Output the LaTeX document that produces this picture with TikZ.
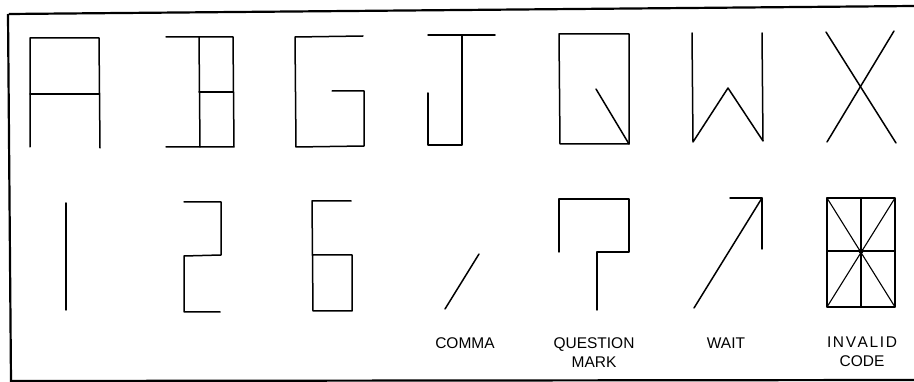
\documentclass[tikz,border=0pt]{standalone}
\usepackage{fontspec}
\setmainfont{Liberation Sans}
\begin{document}
\begin{tikzpicture}[x=1pt,y=-1pt,
  seg/.style={line width=1.5pt, line cap=round, line join=round, black},
  fine/.style={line width=1.1pt, line cap=round, line join=round, black},
  frame/.style={line width=2.2pt, black},
  lbl/.style={font=\fontsize{15.5}{18}\selectfont, inner sep=0pt, align=center, text=black}]
\useasboundingbox (0,0) rectangle (914,382);
\fill[white] (0,0) rectangle (914,382);
% frame
\draw[frame] (9,14) -- (914,6);
\draw[frame] (8,14) -- (11,382);
\draw[frame] (11,381) -- (914,380);
% A
\draw[seg] (30,147) -- (30,38) -- (99,38) -- (100,148);
\draw[seg] (30,94) -- (99,94);
% B
\draw[seg] (166,37) -- (233,37) -- (234,147) -- (166,147);
\draw[seg] (199,37) -- (200,147);
\draw[seg] (199,92) -- (233,92);
% G
\draw[seg] (363,36) -- (295,37) -- (296,147) -- (364,146) -- (364,91) -- (332,91);
% J
\draw[seg] (428,35) -- (495,35);
\draw[seg] (462,35) -- (462,145) -- (428,145) -- (428,93);
% Q
\draw[seg] (559,34) -- (629,34) -- (629,144) -- (560,144) -- cycle;
\draw[seg] (596,89) -- (629,144);
% W
\draw[seg] (692,33) -- (693,142) -- (728,88) -- (763,141) -- (762,33);
% X
\draw[seg] (826,32) -- (896,143);
\draw[seg] (894,31) -- (827,142);
% 1
\draw[seg] (66,203) -- (66,310);
% 2
\draw[seg] (184,202) -- (221,202) -- (221,255) -- (184,256) -- (184,312) -- (220,312);
% 6
\draw[seg] (351,201) -- (312,201) -- (313,311) -- (352,311) -- (352,255) -- (313,255);
% comma
\draw[seg] (445,309) -- (479,254);
\node[lbl] (comma) at (465,343) {COMMA};
% question mark
\draw[seg] (559,252) -- (559,199) -- (629,199) -- (629,252) -- (597,252) -- (597,310);
\node[lbl] (qm) at (594,353) {QUESTION\\[1pt]MARK};
% wait
\draw[seg] (730,198) -- (762,198) -- (762,249);
\draw[seg] (694,308) -- (762,198);
\node[lbl] (wait) at (726,343) {WAIT};
% invalid code
\draw[seg] (827,198) rectangle (895,307);
\draw[fine] (861,198) -- (861,307);
\draw[fine] (827,251) -- (895,251);
\draw[fine] (827,198) -- (895,307);
\draw[fine] (895,198) -- (827,307);
\fill (861,251) circle (2.6pt);
\node[lbl] (inv) at (862,352) {I\kern1.6pt N\kern1.6pt V\kern1.6pt A\kern1.6pt L\kern1.6pt I\kern1.6pt D\\[1pt]CODE};
\end{tikzpicture}
\end{document}
